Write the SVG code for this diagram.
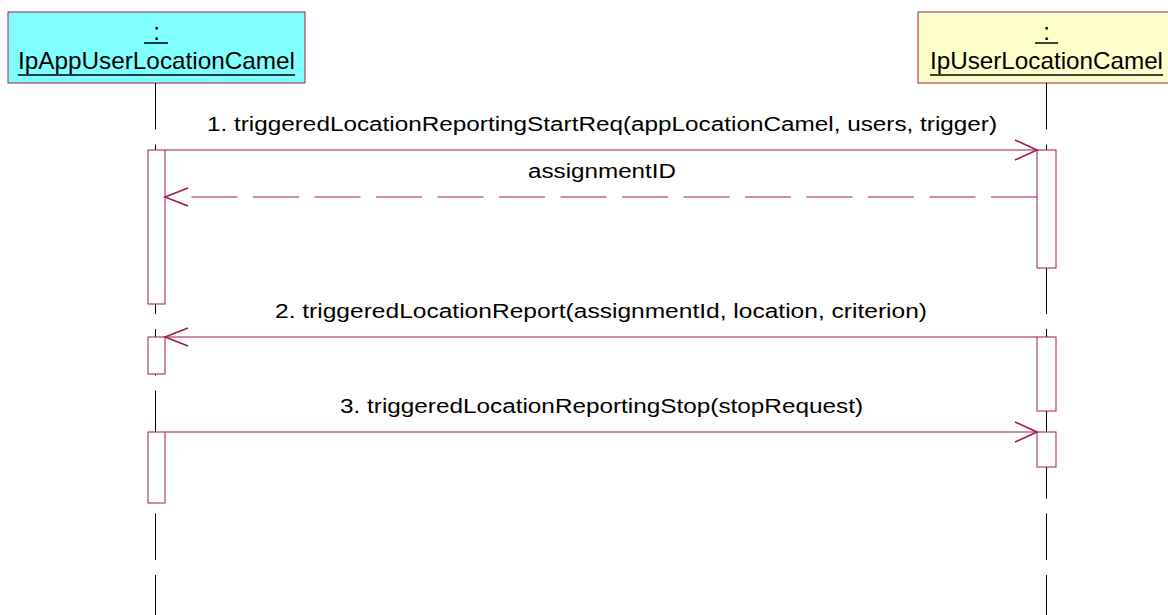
<svg xmlns="http://www.w3.org/2000/svg" width="1168" height="615" viewBox="0 0 1168 615">
<style>
.hdr{font-family:"Liberation Sans",Arial,sans-serif;font-size:24px;fill:#000;text-anchor:middle}
.msg{font-family:"Liberation Sans",Arial,sans-serif;font-size:20px;fill:#000;text-anchor:middle}
.ul{stroke:#000;stroke-width:1.5}
.life{stroke:#000;stroke-width:1;stroke-dasharray:46.5 15}
.act{fill:#fff;stroke:#a01c4c;stroke-width:1}
.line{stroke:#a01c4c;stroke-width:1.2;fill:none}
.dash{stroke:#a01c4c;stroke-width:1.2;fill:none;stroke-dasharray:46 15.5}
.head{stroke:#a01c4c;stroke-width:1.6;fill:none}
</style>
<rect width="1168" height="615" fill="#fff"/>
<g id="obj-app">
<rect x="8" y="12" width="297" height="71" fill="#80ffff" stroke="#a01c4c" stroke-width="1"/>
<text class="hdr" x="156.5" y="40">:</text>
<line class="ul" x1="144" y1="43" x2="168" y2="43"/>
<text class="hdr" x="156.5" y="69" textLength="277" lengthAdjust="spacingAndGlyphs">IpAppUserLocationCamel</text>
<line class="ul" x1="18" y1="75" x2="295" y2="75"/>
</g>
<g id="obj-svc">
<rect x="918" y="12" width="260" height="71" fill="#ffffcc" stroke="#a01c4c" stroke-width="1"/>
<text class="hdr" x="1046.5" y="40">:</text>
<line class="ul" x1="1035" y1="43" x2="1058" y2="43"/>
<text class="hdr" x="1046.5" y="69" textLength="233" lengthAdjust="spacingAndGlyphs">IpUserLocationCamel</text>
<line class="ul" x1="930" y1="75" x2="1163" y2="75"/>
</g>
<g id="lifelines">
<line class="life" x1="155.5" y1="83" x2="155.5" y2="615"/>
<line class="life" x1="1046.5" y1="83" x2="1046.5" y2="615"/>
</g>
<g id="activations">
<rect class="act" x="148" y="150" width="17" height="154"/>
<rect class="act" x="148" y="337" width="17" height="37"/>
<rect class="act" x="148" y="432" width="17" height="71"/>
<rect class="act" x="1037" y="150" width="19" height="118"/>
<rect class="act" x="1037" y="337" width="19" height="74"/>
<rect class="act" x="1037" y="432" width="19" height="35"/>
</g>
<g id="connectors">
<line class="line" x1="165" y1="150" x2="1037" y2="150"/>
<polyline class="head" points="1015,140 1037,150 1015,160"/>
<line class="dash" x1="1037" y1="197" x2="191" y2="197"/>
<polyline class="head" points="188,188 165,197 188,206"/>
<line class="line" x1="1037" y1="337" x2="165" y2="337"/>
<polyline class="head" points="188,328 165,337 188,346"/>
<line class="line" x1="165" y1="432" x2="1037" y2="432"/>
<polyline class="head" points="1015,422 1037,432 1015,442"/>
</g>
<g id="labels">
<text class="msg" x="602" y="131" textLength="790" lengthAdjust="spacingAndGlyphs">1. triggeredLocationReportingStartReq(appLocationCamel, users, trigger)</text>
<text class="msg" x="602" y="178" textLength="148" lengthAdjust="spacingAndGlyphs">assignmentID</text>
<text class="msg" x="601" y="318" textLength="652" lengthAdjust="spacingAndGlyphs">2. triggeredLocationReport(assignmentId, location, criterion)</text>
<text class="msg" x="601.5" y="413" textLength="523" lengthAdjust="spacingAndGlyphs">3. triggeredLocationReportingStop(stopRequest)</text>
</g>
</svg>
